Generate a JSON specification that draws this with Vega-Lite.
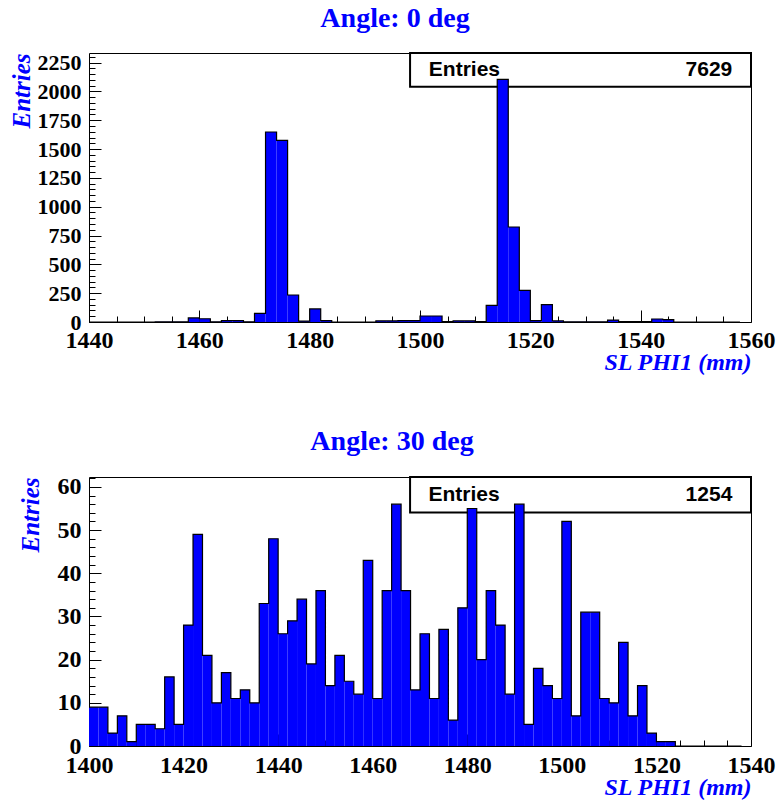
{
  "$schema": "https://vega.github.io/schema/vega-lite/v6.json",
  "padding": {"left": 8, "top": 4, "right": 0, "bottom": 0},
  "spacing": 52,
  "config": {
    "font": "Liberation Serif",
    "view": {"stroke": "#000000", "strokeWidth": 1},
    "axis": {
      "grid": false,
      "domain": false,
      "zindex": 1,
      "tickColor": "#000000",
      "tickWidth": 1,
      "labelFont": "Liberation Serif",
      "labelFontWeight": "bold",
      "labelColor": "#000000",
      "labelFlush": false,
      "labelOverlap": false,
      "labelBound": false,
      "titleFont": "Liberation Serif",
      "titleFontWeight": "bold",
      "titleFontStyle": "italic",
      "titleColor": "#0000ff"
    },
    "title": {
      "font": "Liberation Serif",
      "fontWeight": "bold",
      "fontSize": 28,
      "color": "#0000ff",
      "anchor": "middle"
    }
  },
  "datasets": {
    "angle0": [
      {"lo": 1440, "hi": 1442, "n": 0}, {"lo": 1442, "hi": 1444, "n": 0}, {"lo": 1444, "hi": 1446, "n": 0},
      {"lo": 1446, "hi": 1448, "n": 0}, {"lo": 1448, "hi": 1450, "n": 0}, {"lo": 1450, "hi": 1452, "n": 0},
      {"lo": 1452, "hi": 1454, "n": 2}, {"lo": 1454, "hi": 1456, "n": 2}, {"lo": 1456, "hi": 1458, "n": 2},
      {"lo": 1458, "hi": 1460, "n": 35}, {"lo": 1460, "hi": 1462, "n": 28}, {"lo": 1462, "hi": 1464, "n": 2},
      {"lo": 1464, "hi": 1466, "n": 12}, {"lo": 1466, "hi": 1468, "n": 12}, {"lo": 1468, "hi": 1470, "n": 2},
      {"lo": 1470, "hi": 1472, "n": 75}, {"lo": 1472, "hi": 1474, "n": 1648}, {"lo": 1474, "hi": 1476, "n": 1576},
      {"lo": 1476, "hi": 1478, "n": 234}, {"lo": 1478, "hi": 1480, "n": 8}, {"lo": 1480, "hi": 1482, "n": 113},
      {"lo": 1482, "hi": 1484, "n": 12}, {"lo": 1484, "hi": 1486, "n": 0}, {"lo": 1486, "hi": 1488, "n": 0},
      {"lo": 1488, "hi": 1490, "n": 0}, {"lo": 1490, "hi": 1492, "n": 0}, {"lo": 1492, "hi": 1494, "n": 10},
      {"lo": 1494, "hi": 1496, "n": 10}, {"lo": 1496, "hi": 1498, "n": 12}, {"lo": 1498, "hi": 1500, "n": 12},
      {"lo": 1500, "hi": 1502, "n": 52}, {"lo": 1502, "hi": 1504, "n": 52}, {"lo": 1504, "hi": 1506, "n": 3},
      {"lo": 1506, "hi": 1508, "n": 10}, {"lo": 1508, "hi": 1510, "n": 10}, {"lo": 1510, "hi": 1512, "n": 3},
      {"lo": 1512, "hi": 1514, "n": 145}, {"lo": 1514, "hi": 1516, "n": 2105}, {"lo": 1516, "hi": 1518, "n": 824},
      {"lo": 1518, "hi": 1520, "n": 275}, {"lo": 1520, "hi": 1522, "n": 12}, {"lo": 1522, "hi": 1524, "n": 150},
      {"lo": 1524, "hi": 1526, "n": 10}, {"lo": 1526, "hi": 1528, "n": 2}, {"lo": 1528, "hi": 1530, "n": 2},
      {"lo": 1530, "hi": 1532, "n": 2}, {"lo": 1532, "hi": 1534, "n": 2}, {"lo": 1534, "hi": 1536, "n": 17},
      {"lo": 1536, "hi": 1538, "n": 3}, {"lo": 1538, "hi": 1540, "n": 3}, {"lo": 1540, "hi": 1542, "n": 3},
      {"lo": 1542, "hi": 1544, "n": 26}, {"lo": 1544, "hi": 1546, "n": 20}, {"lo": 1546, "hi": 1548, "n": 0},
      {"lo": 1548, "hi": 1550, "n": 0}, {"lo": 1550, "hi": 1552, "n": 0}, {"lo": 1552, "hi": 1554, "n": 0},
      {"lo": 1554, "hi": 1556, "n": 0}, {"lo": 1556, "hi": 1558, "n": 0}, {"lo": 1558, "hi": 1560, "n": 0}
    ],
    "angle30": [
      {"lo": 1400, "hi": 1402, "n": 9}, {"lo": 1402, "hi": 1404, "n": 9}, {"lo": 1404, "hi": 1406, "n": 3},
      {"lo": 1406, "hi": 1408, "n": 7}, {"lo": 1408, "hi": 1410, "n": 1}, {"lo": 1410, "hi": 1412, "n": 5},
      {"lo": 1412, "hi": 1414, "n": 5}, {"lo": 1414, "hi": 1416, "n": 4}, {"lo": 1416, "hi": 1418, "n": 16},
      {"lo": 1418, "hi": 1420, "n": 5}, {"lo": 1420, "hi": 1422, "n": 28}, {"lo": 1422, "hi": 1424, "n": 49},
      {"lo": 1424, "hi": 1426, "n": 21}, {"lo": 1426, "hi": 1428, "n": 10}, {"lo": 1428, "hi": 1430, "n": 17},
      {"lo": 1430, "hi": 1432, "n": 11}, {"lo": 1432, "hi": 1434, "n": 13}, {"lo": 1434, "hi": 1436, "n": 10},
      {"lo": 1436, "hi": 1438, "n": 33}, {"lo": 1438, "hi": 1440, "n": 48}, {"lo": 1440, "hi": 1442, "n": 26},
      {"lo": 1442, "hi": 1444, "n": 29}, {"lo": 1444, "hi": 1446, "n": 34}, {"lo": 1446, "hi": 1448, "n": 19},
      {"lo": 1448, "hi": 1450, "n": 36}, {"lo": 1450, "hi": 1452, "n": 14}, {"lo": 1452, "hi": 1454, "n": 21},
      {"lo": 1454, "hi": 1456, "n": 15}, {"lo": 1456, "hi": 1458, "n": 12}, {"lo": 1458, "hi": 1460, "n": 43},
      {"lo": 1460, "hi": 1462, "n": 11}, {"lo": 1462, "hi": 1464, "n": 36}, {"lo": 1464, "hi": 1466, "n": 56},
      {"lo": 1466, "hi": 1468, "n": 36}, {"lo": 1468, "hi": 1470, "n": 13}, {"lo": 1470, "hi": 1472, "n": 26},
      {"lo": 1472, "hi": 1474, "n": 11}, {"lo": 1474, "hi": 1476, "n": 27}, {"lo": 1476, "hi": 1478, "n": 6},
      {"lo": 1478, "hi": 1480, "n": 32}, {"lo": 1480, "hi": 1482, "n": 55}, {"lo": 1482, "hi": 1484, "n": 20},
      {"lo": 1484, "hi": 1486, "n": 36}, {"lo": 1486, "hi": 1488, "n": 28}, {"lo": 1488, "hi": 1490, "n": 12},
      {"lo": 1490, "hi": 1492, "n": 56}, {"lo": 1492, "hi": 1494, "n": 5}, {"lo": 1494, "hi": 1496, "n": 18},
      {"lo": 1496, "hi": 1498, "n": 14}, {"lo": 1498, "hi": 1500, "n": 11}, {"lo": 1500, "hi": 1502, "n": 52},
      {"lo": 1502, "hi": 1504, "n": 7}, {"lo": 1504, "hi": 1506, "n": 31}, {"lo": 1506, "hi": 1508, "n": 31},
      {"lo": 1508, "hi": 1510, "n": 11}, {"lo": 1510, "hi": 1512, "n": 10}, {"lo": 1512, "hi": 1514, "n": 24},
      {"lo": 1514, "hi": 1516, "n": 7}, {"lo": 1516, "hi": 1518, "n": 14}, {"lo": 1518, "hi": 1520, "n": 3},
      {"lo": 1520, "hi": 1522, "n": 1}, {"lo": 1522, "hi": 1524, "n": 1}, {"lo": 1524, "hi": 1526, "n": 0},
      {"lo": 1526, "hi": 1528, "n": 0}, {"lo": 1528, "hi": 1530, "n": 0}, {"lo": 1530, "hi": 1532, "n": 0},
      {"lo": 1532, "hi": 1534, "n": 0}, {"lo": 1534, "hi": 1536, "n": 0}, {"lo": 1536, "hi": 1538, "n": 0},
      {"lo": 1538, "hi": 1540, "n": 0}
    ],
    "stats0": [{"label": "Entries", "entries": 7629}],
    "stats30": [{"label": "Entries", "entries": 1254}]
  },
  "vconcat": [
    {
      "title": {"text": "Angle: 0 deg", "offset": 19, "dx": -25},
      "width": 662,
      "height": 269,
      "resolve": {"axis": {"x": "independent", "y": "independent"}},
      "layer": [
        {
          "data": {"name": "stats0"},
          "mark": {"type": "rect", "fill": "#ffffff", "stroke": "#000000", "strokeWidth": 2},
          "encoding": {
            "x": {"datum": 1498.2, "type": "quantitative", "axis": null},
            "x2": {"datum": 1560},
            "y": {"datum": 2041, "type": "quantitative", "axis": null},
            "y2": {"datum": 2333}
          }
        },
        {
          "data": {"name": "stats0"},
          "mark": {"type": "text", "font": "Liberation Sans", "fontWeight": "bold", "fontSize": 21, "align": "left", "baseline": "middle", "color": "#000000"},
          "encoding": {
            "x": {"datum": 1501.6, "type": "quantitative", "axis": null},
            "y": {"datum": 2186, "type": "quantitative", "axis": null},
            "text": {"field": "label"}
          }
        },
        {
          "data": {"name": "stats0"},
          "mark": {"type": "text", "font": "Liberation Sans", "fontWeight": "bold", "fontSize": 21, "align": "right", "baseline": "middle", "color": "#000000"},
          "encoding": {
            "x": {"datum": 1556.6, "type": "quantitative", "axis": null},
            "y": {"datum": 2186, "type": "quantitative", "axis": null},
            "text": {"field": "entries", "type": "quantitative", "format": "d"}
          }
        },
        {
          "data": {"name": "angle0"},
          "mark": {"type": "rect", "color": "#0000ff"},
          "encoding": {
            "x": {
              "field": "lo", "type": "quantitative",
              "scale": {"domain": [1440, 1560], "nice": false, "zero": false},
              "axis": {
                "orient": "bottom",
                "title": "SL PHI1 (mm)",
                "titleFontSize": 24,
                "titleAnchor": "end",
                "titleAlign": "right",
                "titlePadding": -2,
                "values": [1440, 1460, 1480, 1500, 1520, 1540, 1560],
                "format": "d",
                "labelFontSize": 24,
                "labelPadding": 18,
                "tickSize": -12
              }
            },
            "x2": {"field": "hi"},
            "y": {
              "field": "n", "type": "quantitative",
              "scale": {"domain": [0, 2333], "nice": false},
              "axis": {
                "orient": "left",
                "title": "Entries",
                "titleFontSize": 25,
                "titleAnchor": "end",
                "titlePadding": 3,
                "values": [0, 250, 500, 750, 1000, 1250, 1500, 1750, 2000, 2250],
                "format": "d",
                "labelFontSize": 22,
                "labelPadding": 20,
                "tickSize": -12
              }
            },
            "y2": {"datum": 0}
          }
        },
        {
          "data": {"name": "angle0"},
          "mark": {"type": "line", "interpolate": "step-after", "color": "#000000", "strokeWidth": 1.2},
          "encoding": {
            "x": {
              "field": "lo", "type": "quantitative",
              "axis": {
                "orient": "bottom", "title": null, "labels": false, "tickSize": -6,
                "values": [1445, 1450, 1455, 1465, 1470, 1475, 1485, 1490, 1495, 1505, 1510, 1515, 1525, 1530, 1535, 1545, 1550, 1555]
              }
            },
            "y": {
              "field": "n", "type": "quantitative",
              "axis": {
                "orient": "left", "title": null, "labels": false, "tickSize": -6,
                "values": [50, 100, 150, 200, 300, 350, 400, 450, 550, 600, 650, 700, 800, 850, 900, 950, 1050, 1100, 1150, 1200, 1300, 1350, 1400, 1450, 1550, 1600, 1650, 1700, 1800, 1850, 1900, 1950, 2050, 2100, 2150, 2200, 2300]
              }
            }
          }
        }
      ]
    },
    {
      "title": {"text": "Angle: 30 deg", "offset": 19, "dx": -28},
      "width": 662,
      "height": 269,
      "resolve": {"axis": {"x": "independent", "y": "independent"}},
      "layer": [
        {
          "data": {"name": "stats30"},
          "mark": {"type": "rect", "fill": "#ffffff", "stroke": "#000000", "strokeWidth": 2},
          "encoding": {
            "x": {"datum": 1467.9, "type": "quantitative", "axis": null},
            "x2": {"datum": 1540},
            "y": {"datum": 54.07, "type": "quantitative", "axis": null},
            "y2": {"datum": 62.3}
          }
        },
        {
          "data": {"name": "stats30"},
          "mark": {"type": "text", "font": "Liberation Sans", "fontWeight": "bold", "fontSize": 21, "align": "left", "baseline": "middle", "color": "#000000"},
          "encoding": {
            "x": {"datum": 1471.8, "type": "quantitative", "axis": null},
            "y": {"datum": 58.1, "type": "quantitative", "axis": null},
            "text": {"field": "label"}
          }
        },
        {
          "data": {"name": "stats30"},
          "mark": {"type": "text", "font": "Liberation Sans", "fontWeight": "bold", "fontSize": 21, "align": "right", "baseline": "middle", "color": "#000000"},
          "encoding": {
            "x": {"datum": 1536.05, "type": "quantitative", "axis": null},
            "y": {"datum": 58.1, "type": "quantitative", "axis": null},
            "text": {"field": "entries", "type": "quantitative", "format": "d"}
          }
        },
        {
          "data": {"name": "angle30"},
          "mark": {"type": "rect", "color": "#0000ff"},
          "encoding": {
            "x": {
              "field": "lo", "type": "quantitative",
              "scale": {"domain": [1400, 1540], "nice": false, "zero": false},
              "axis": {
                "orient": "bottom",
                "title": "SL PHI1 (mm)",
                "titleFontSize": 24,
                "titleAnchor": "end",
                "titleAlign": "right",
                "titlePadding": -2,
                "values": [1400, 1420, 1440, 1460, 1480, 1500, 1520, 1540],
                "format": "d",
                "labelFontSize": 24,
                "labelPadding": 19,
                "tickSize": -12
              }
            },
            "x2": {"field": "hi"},
            "y": {
              "field": "n", "type": "quantitative",
              "scale": {"domain": [0, 62.3], "nice": false},
              "axis": {
                "orient": "left",
                "title": "Entries",
                "titleFontSize": 25,
                "titleAnchor": "end",
                "titlePadding": 14,
                "values": [0, 10, 20, 30, 40, 50, 60],
                "format": "d",
                "labelFontSize": 24,
                "labelPadding": 20,
                "tickSize": -12
              }
            },
            "y2": {"datum": 0}
          }
        },
        {
          "data": {"name": "angle30"},
          "mark": {"type": "line", "interpolate": "step-after", "color": "#000000", "strokeWidth": 1.2},
          "encoding": {
            "x": {
              "field": "lo", "type": "quantitative",
              "axis": {
                "orient": "bottom", "title": null, "labels": false, "tickSize": -6,
                "values": [1405, 1410, 1415, 1425, 1430, 1435, 1445, 1450, 1455, 1465, 1470, 1475, 1485, 1490, 1495, 1505, 1510, 1515, 1525, 1530, 1535]
              }
            },
            "y": {
              "field": "n", "type": "quantitative",
              "axis": {
                "orient": "left", "title": null, "labels": false, "tickSize": -6,
                "values": [2, 4, 6, 8, 12, 14, 16, 18, 22, 24, 26, 28, 32, 34, 36, 38, 42, 44, 46, 48, 52, 54, 56, 58, 62]
              }
            }
          }
        }
      ]
    }
  ]
}
